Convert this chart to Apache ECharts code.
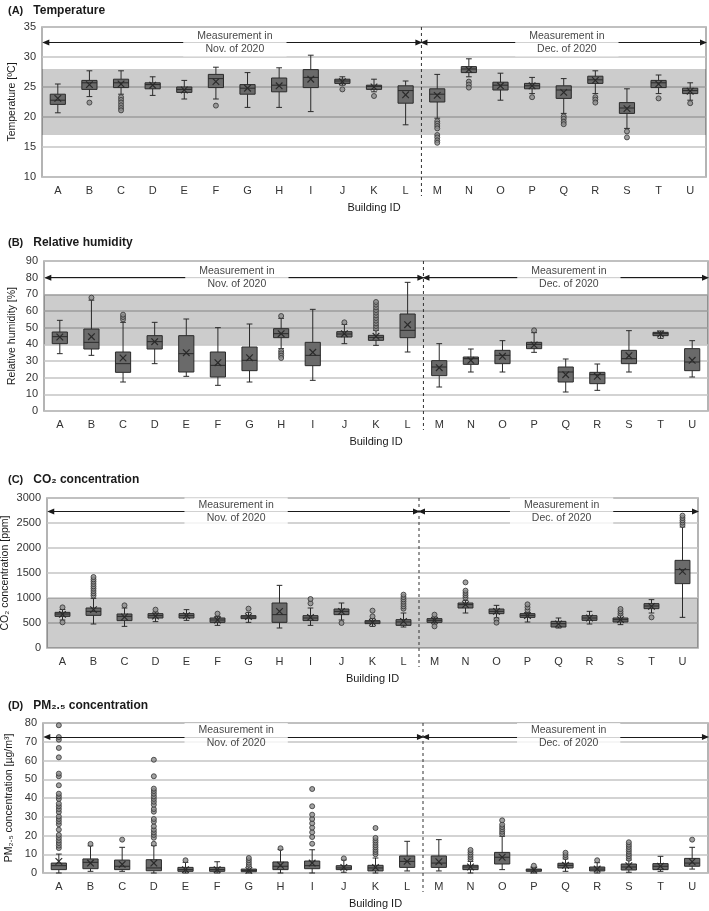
<!DOCTYPE html>
<html>
<head>
<meta charset="utf-8">
<title>Indoor environment by building</title>
<script src="https://cdn.jsdelivr.net/npm/echarts@6/dist/echarts.min.js"></script>
<style>
  html, body { margin: 0; background: #fff; }
  #chart { width: 709px; height: 911px; }
</style>
</head>
<body>
<div id="chart"></div>
<script>
const buildings = ['A','B','C','D','E','F','G','H','I','J','K','L','M','N','O','P','Q','R','S','T','U']

// box = [min, Q1, median, Q3, max]
const tempBoxes = [
  [20.7, 22.1, 22.8, 23.8, 25.5], [23.4, 24.6, 25.7, 26.1, 27.7], [23.8, 24.9, 25.7, 26.3, 27.7],
  [23.6, 24.7, 25.4, 25.7, 26.7], [23.0, 24.1, 24.6, 25.0, 26.1], [23.0, 24.9, 26.4, 27.1, 28.3],
  [21.6, 23.8, 24.8, 25.4, 27.4], [21.6, 24.2, 25.3, 26.5, 28.2], [20.9, 24.9, 26.6, 27.9, 30.3],
  [25.3, 25.6, 26.0, 26.3, 26.7], [24.2, 24.6, 25.1, 25.3, 26.3], [18.7, 22.3, 24.4, 25.2, 26.0],
  [19.8, 22.5, 23.8, 24.7, 27.1], [26.7, 27.4, 28.0, 28.4, 29.7], [22.8, 24.5, 25.3, 25.8, 27.3],
  [23.9, 24.7, 25.2, 25.6, 26.6], [20.6, 23.1, 24.5, 25.2, 26.4], [23.9, 25.6, 26.2, 26.8, 27.7],
  [18.1, 20.6, 21.5, 22.4, 24.7], [23.9, 24.9, 25.7, 26.1, 27.0], [22.8, 23.9, 24.4, 24.8, 25.7]
]
const tempMeans = [23.1, 25.4, 25.5, 25.3, 24.5, 25.9, 24.8, 25.2, 26.3, 25.9, 25.0,
  23.7, 23.6, 27.9, 25.2, 25.2, 24.1, 26.1, 21.4, 25.5, 24.3]
const tempOutliers = [
  [], [22.4], [23.3, 22.85, 22.4, 21.95, 21.5, 21.1], [], [], [21.9], [], [], [], [24.6], [23.5], [],
  [19.3, 18.9, 18.5, 18.1, 17.0, 16.6, 16.1, 15.7], [25.9, 25.4, 24.9], [], [23.3],
  [20.1, 19.7, 19.2, 18.8], [23.3, 22.9, 22.4], [17.6, 16.6], [23.1], [22.3]
]
const tempBand = [17, 28]

const humBoxes = [
  [34.4, 40.4, 44.6, 47.4, 54.4], [33.4, 37.2, 41.2, 49.2, 66.5], [17.4, 23.2, 28.4, 35.4, 53.2],
  [28.4, 37.2, 41.6, 45.2, 53.2], [20.8, 23.4, 34.4, 45.2, 55.2], [15.4, 20.4, 27.4, 35.4, 50.0],
  [17.4, 24.2, 30.4, 38.4, 52.2], [37.4, 44.0, 46.4, 49.4, 55.6], [18.4, 27.2, 33.4, 41.2, 61.0],
  [40.4, 44.4, 46.2, 47.6, 52.0], [39.4, 42.4, 44.2, 45.4, 48.4], [35.4, 44.0, 48.4, 58.2, 77.2],
  [14.4, 21.2, 26.4, 30.2, 40.4], [23.4, 28.0, 31.4, 32.4, 37.2], [23.4, 28.4, 33.4, 36.4, 42.2],
  [35.2, 37.4, 40.0, 41.2, 47.0], [11.4, 17.4, 23.4, 26.4, 31.2], [12.4, 16.4, 21.8, 23.2, 28.2],
  [23.4, 28.4, 31.4, 36.4, 48.2], [43.6, 45.2, 46.4, 47.2, 48.0], [20.4, 24.2, 29.4, 37.4, 42.2]
]
const humMeans = [44.4, 44.6, 31.8, 41.6, 35.0, 29.0, 32.0, 46.4, 35.2, 46.4, 44.8,
  51.8, 26.0, 30.4, 32.8, 39.6, 21.8, 20.8, 33.2, 46.2, 30.4]
const humOutliers = [
  [], [68], [55.0, 56.4, 57.8], [], [], [], [], [57.0, 36.0, 34.6, 33.2, 31.8], [], [53.2],
  [49.4, 51.0, 52.6, 54.2, 55.8, 57.4, 59.0, 60.6, 62.2, 63.8, 65.4], [],
  [], [], [], [48.4], [], [], [], [], []
]
const humBand = [40, 70]

const co2Boxes = [
  [560, 633, 680, 713, 770], [480, 653, 733, 800, 993], [433, 547, 633, 680, 800],
  [527, 600, 647, 687, 720], [553, 600, 647, 687, 767], [453, 513, 560, 600, 633],
  [513, 587, 620, 647, 713], [400, 513, 667, 900, 1253], [453, 547, 600, 647, 800],
  [560, 667, 733, 780, 900], [433, 487, 520, 547, 587], [420, 453, 520, 567, 700],
  [480, 513, 553, 587, 620], [700, 800, 867, 900, 953], [600, 687, 733, 780, 853],
  [520, 613, 653, 687, 713], [400, 420, 487, 533, 600], [480, 553, 600, 647, 733],
  [467, 520, 567, 600, 660], [700, 787, 840, 887, 967], [613, 1287, 1567, 1753, 2420]
]
const co2Means = [673, 767, 620, 640, 647, 560, 627, 733, 613, 733, 513,
  533, 553, 867, 733, 647, 480, 600, 567, 833, 1533]
const co2Outliers = [
  [813, 513], [1047, 1093, 1140, 1187, 1233, 1280, 1327, 1373, 1420], [853], [767], [], [687],
  [787], [], [893, 980], [500], [633, 747], [787, 833, 880, 927, 973, 1020, 1067],
  [667, 433], [1007, 1053, 1100, 1147, 1313], [567, 507], [760, 813, 873], [], [],
  [687, 733, 780], [613], [2460, 2507, 2553, 2600, 2647]
]
const co2Band = [0, 1000]

const pmBoxes = [
  [0, 1.8, 3.9, 5.3, 10.1], [0.9, 2.3, 5.7, 7.5, 14.5], [0.9, 1.8, 3.6, 6.9, 13.7],
  [0, 1.2, 2.7, 7.1, 14.6], [0, 0.9, 1.8, 3.0, 5.7], [0, 0.9, 1.8, 3.0, 6.0],
  [0, 0.7, 1.4, 2.1, 3.6], [0, 1.8, 3.6, 5.9, 12.5], [0, 2.3, 3.9, 6.4, 12.4],
  [0.4, 1.8, 2.7, 3.9, 7.0], [0, 1.1, 2.7, 4.1, 8.0], [1.1, 3.0, 6.2, 9.1, 16.9],
  [1.1, 3.0, 5.3, 9.1, 17.8], [0, 1.8, 3.2, 4.1, 6.2], [1.8, 4.8, 8.4, 11.0, 19.6],
  [0, 0.9, 1.6, 2.1, 3.0], [0.9, 2.7, 4.1, 5.2, 7.5], [0, 1.1, 2.1, 3.2, 5.5],
  [0.4, 1.6, 3.2, 4.8, 6.9], [0.9, 1.8, 3.6, 5.0, 8.9], [2.1, 3.6, 5.3, 7.8, 13.7]
]
const pmMeans = [6.2, 5.3, 4.6, 5.3, 1.8, 1.8, 1.4, 4.1, 5.3, 3.0, 3.0,
  6.2, 6.0, 3.2, 8.4, 1.6, 4.1, 2.1, 3.9, 3.6, 6.0]
const pmOutliers = [
  [13.3, 14.6, 16, 17.4, 18.8, 20.3, 23.1, 26, 27.4, 28.8, 30.2, 32.5, 34.1, 35.6, 37, 39.5,
    40.9, 42.3, 46.8, 51.6, 53, 61.7, 66.7, 71.1, 72.5, 78.8],
  [15.5], [17.8],
  [15.6, 18.8, 20.3, 21.7, 23.1, 24.9, 27.4, 28.8, 32.7, 34.1, 36.4, 38, 39.5, 40.9, 42.3,
    43.7, 45, 51.6, 60.4],
  [6.8], [], [4.3, 5.5, 6.8, 8.0], [13.2],
  [15.6, 19.2, 21.7, 24.2, 26.5, 28.8, 31.1, 35.6, 44.8],
  [7.8], [10, 11.2, 12.4, 13.7, 14.9, 16.2, 17.4, 18.7, 24], [],
  [], [7.3, 8.5, 9.8, 11.0, 12.3], [20.8, 22.0, 23.3, 24.5, 25.8, 28.1], [3.9],
  [8.4, 9.6, 10.8], [6.8], [7.6, 8.9, 10.1, 11.4, 12.6, 13.9, 15.1, 16.4], [], [17.8]
]

const periods = ['Measurement in\nNov. of 2020', 'Measurement in\nDec. of 2020']

const panels = [
  { tag: '(A)', title: 'Temperature', yName: 'Temperature [ºC]', boxes: tempBoxes, means: tempMeans,
    outliers: tempOutliers, band: tempBand, min: 10, max: 35, step: 5, arrowAt: 32.4,
    grid: { left: 42, top: 27, width: 664 }, titleTop: 2, nameGap: 24 },
  { tag: '(B)', title: 'Relative humidity', yName: 'Relative humidity [%]', boxes: humBoxes, means: humMeans,
    outliers: humOutliers, band: humBand, min: 0, max: 90, step: 10, arrowAt: 80,
    grid: { left: 44, top: 261, width: 664 }, titleTop: 234, nameGap: 26 },
  { tag: '(C)', title: 'CO₂ concentration', yName: 'CO₂ concentration [ppm]', boxes: co2Boxes, means: co2Means,
    outliers: co2Outliers, band: co2Band, min: 0, max: 3000, step: 500, arrowAt: 2730,
    grid: { left: 47, top: 498, width: 651 }, titleTop: 471, nameGap: 36 },
  { tag: '(D)', title: 'PM₂.₅ concentration', yName: 'PM₂.₅ concentration [µg/m³]', boxes: pmBoxes, means: pmMeans,
    outliers: pmOutliers, band: null, min: 0, max: 80, step: 10, arrowAt: 72.5,
    grid: { left: 43, top: 723, width: 665 }, titleTop: 697, nameGap: 28 }
]

const ink = '#2a2a2a'
const font = 'Liberation Sans, Arial, sans-serif'

function renderBox(params, api) {
  const i = api.value(0)
  const [x, yMin] = api.coord([i, api.value(1)])
  const yQ1 = api.coord([i, api.value(2)])[1]
  const yMed = api.coord([i, api.value(3)])[1]
  const yQ3 = api.coord([i, api.value(4)])[1]
  const yMax = api.coord([i, api.value(5)])[1]
  const yMean = api.coord([i, api.value(6)])[1]
  const w = api.size([1, 0])[0] * 0.48
  const cap = w * 0.19
  const m = 3.3
  const seg = (x1, y1, x2, y2, lw) => ({
    type: 'line', shape: { x1, y1, x2, y2 }, style: { stroke: ink, lineWidth: lw || 1 }
  })
  return {
    type: 'group',
    children: [
      seg(x, yMax, x, yQ3), seg(x, yQ1, x, yMin),
      seg(x - cap, yMax, x + cap, yMax), seg(x - cap, yMin, x + cap, yMin),
      { type: 'rect', shape: { x: x - w / 2, y: yQ3, width: w, height: yQ1 - yQ3 },
        style: { fill: '#6a6a6a', stroke: ink, lineWidth: 1 } },
      seg(x - w / 2, yMed, x + w / 2, yMed),
      seg(x - m, yMean - m, x + m, yMean + m, 1.2), seg(x - m, yMean + m, x + m, yMean - m, 1.2)
    ]
  }
}

// dashed divider between the two measurement periods, running a little below the plot
function renderDivider(params, api) {
  const top = api.coord([api.value(0), api.value(1)])
  const bottom = api.coord([api.value(0), api.value(2)])
  return {
    type: 'line',
    shape: { x1: top[0], y1: top[1], x2: bottom[0], y2: bottom[1] + 19 },
    style: { stroke: '#333', lineWidth: 1, lineDash: [3, 3] }
  }
}

const option = {
  animation: false,
  backgroundColor: '#fff',
  textStyle: { fontFamily: font, color: '#1a1a1a' },
  title: [], grid: [], xAxis: [], yAxis: [], series: []
}

panels.forEach((p, k) => {
  option.title.push({
    left: 8, top: p.titleTop, padding: 0,
    text: '{b|' + p.tag + '}  {n|' + p.title + '}',
    textStyle: {
      rich: {
        b: { fontSize: 11, fontWeight: 'bold', color: '#1a1a1a', fontFamily: font },
        n: { fontSize: 12, color: '#1a1a1a', fontFamily: font }
      }
    }
  })
  option.grid.push({
    left: p.grid.left, top: p.grid.top, width: p.grid.width, height: 150,
    containLabel: false, outerBoundsMode: 'none',
    show: true, borderColor: '#9c9c9c', borderWidth: 1.5, backgroundColor: 'transparent'
  })
  option.xAxis.push({
    type: 'category', gridIndex: k, data: buildings,
    axisLine: { show: false }, axisTick: { show: false },
    axisLabel: { fontSize: 11, color: '#333', margin: 8 },
    name: 'Building ID', nameLocation: 'middle', nameGap: 25, nameMoveOverlap: false,
    nameTextStyle: { fontSize: 11, color: '#1a1a1a' }
  })
  option.xAxis.push({
    type: 'value', gridIndex: k, min: -0.5, max: 20.5, show: false, splitLine: { show: false }
  })
  option.yAxis.push({
    type: 'value', gridIndex: k, min: p.min, max: p.max, interval: p.step,
    axisLine: { show: false }, axisTick: { show: false },
    axisLabel: { fontSize: 11, color: '#333', margin: 6, formatter: v => String(v) },
    splitLine: { lineStyle: { color: '#c4c4c4', width: 1.5 } },
    name: p.yName, nameLocation: 'middle', nameGap: p.nameGap, nameMoveOverlap: false,
    nameTextStyle: { fontSize: 10.5, color: '#1a1a1a' }
  })

  const xi = 2 * k + 1
  option.series.push({
    type: 'line', xAxisIndex: xi, yAxisIndex: k, data: [], silent: true, z: 1,
    markArea: p.band ? {
      silent: true, itemStyle: { color: 'rgba(0,0,0,0.2)' },
      data: [[{ yAxis: p.band[0] }, { yAxis: p.band[1] }]]
    } : undefined,
    markLine: {
      silent: true, symbol: ['triangle', 'triangle'], symbolSize: [6, 7], label: { show: false },
      lineStyle: { color: '#1a1a1a', type: 'solid', width: 1 },
      data: [
        [{ coord: [-0.38, p.arrowAt] }, { coord: [11.42, p.arrowAt] }],
        [{ coord: [11.58, p.arrowAt] }, { coord: [20.42, p.arrowAt] }]
      ]
    }
  })
  option.series.push({
    type: 'custom', xAxisIndex: xi, yAxisIndex: k, z: 2, silent: true, clip: false,
    renderItem: renderDivider,
    encode: { x: 0, y: [1, 2] },
    data: [[11.5, p.max, p.min]]
  })
  option.series.push({
    type: 'scatter', xAxisIndex: xi, yAxisIndex: k, silent: true, z: 5,
    symbolSize: 1, itemStyle: { color: 'rgba(0,0,0,0)' },
    data: [[5.6, p.arrowAt, periods[0]], [16.1, p.arrowAt, periods[1]]],
    label: {
      show: true, position: 'inside', formatter: d => d.data[2],
      fontSize: 10.5, lineHeight: 13, color: '#111', align: 'center',
      backgroundColor: '#fff', padding: [1, 14]
    }
  })
  option.series.push({
    type: 'custom', xAxisIndex: xi, yAxisIndex: k, z: 3, silent: true,
    renderItem: renderBox,
    encode: { x: 0, y: [1, 2, 3, 4, 5, 6] },
    data: buildings.map((b, i) => [i, ...p.boxes[i], p.means[i]])
  })
  const pts = []
  p.outliers.forEach((list, i) => list.forEach(v => pts.push([i, v])))
  option.series.push({
    type: 'scatter', xAxisIndex: xi, yAxisIndex: k, z: 4, silent: true,
    symbol: 'circle', symbolSize: 5,
    itemStyle: { color: '#8c8c8c', borderColor: '#333', borderWidth: 1 },
    data: pts
  })
})

const myChart = echarts.init(document.getElementById('chart'))
myChart.setOption(option)
</script>
</body>
</html>
